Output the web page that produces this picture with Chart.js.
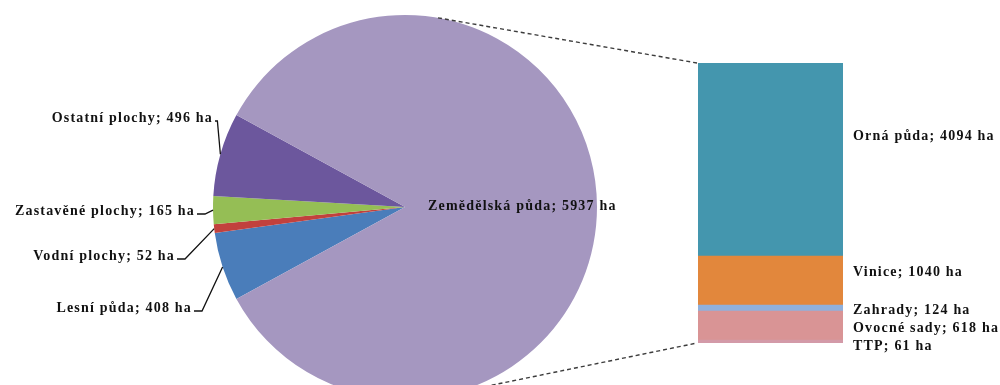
<!DOCTYPE html>
<html>
<head>
<meta charset="utf-8">
<script src="https://cdn.jsdelivr.net/npm/chart.js@4/dist/chart.umd.min.js"></script>
<style>
  html, body { margin: 0; padding: 0; background: #fff; overflow: hidden; width: 1000px; height: 385px; }
  #pie { position: absolute; left: 0; top: 0; }
  #bar { position: absolute; left: 690px; top: 0; }
</style>
</head>
<body>
<canvas id="pie" width="1000" height="420"></canvas>
<canvas id="bar" width="310" height="385"></canvas>
<script>
// Land use (ha): main pie slices, clockwise from the lower left
const pieLabels = ['Lesní půda', 'Vodní plochy', 'Zastavěné plochy', 'Ostatní plochy', 'Zemědělská půda'];
const pieValues = [408, 52, 165, 496, 5937];
const pieColors = ['#4a7dba', '#c2413d', '#95be55', '#6c579d', '#a597c0'];

// Breakdown of agricultural land (ha), top to bottom of the column
const barLabels = ['Orná půda', 'Vinice', 'Zahrady', 'Ovocné sady', 'TTP'];
const barValues = [4094, 1040, 124, 618, 61];
const barColors = ['#4496ae', '#e2873c', '#8fb0dc', '#d99495', '#d39aa8'];

const UNIT = 'ha';
const LABEL_FONT = 'bold 14px "Liberation Serif", "Times New Roman", serif';
const LABEL_SPACING = '1.2px';
const BAR_CANVAS_LEFT = 690;

// label anchors for the pie slices (right edge of text for outside labels)
const pieLabelPos = [
  { x: 192, y: 308 },
  { x: 175, y: 256 },
  { x: 195, y: 211 },
  { x: 213, y: 118 },
  { x: 428, y: 206, inside: true }
];
// vertical nudges of the column labels relative to segment centres
const barLabelDy = [-23, -8, 2, 3, 5];

const fmt = (name, v) => `${name}; ${v} ${UNIT}`;

// ---- column (stacked bar) ----
const barTotal = barValues.reduce((a, b) => a + b, 0);
const barDatasets = barLabels.map((name, i) => ({
  label: name,
  data: [barValues[i]],
  backgroundColor: barColors[i],
  borderWidth: 0,
  barPercentage: 1,
  categoryPercentage: 1
})).reverse(); // first dataset stacks at the bottom

const barLabelPlugin = {
  id: 'barLabels',
  afterDatasetsDraw(chart) {
    const ctx = chart.ctx;
    ctx.save();
    ctx.font = LABEL_FONT;
    ctx.letterSpacing = LABEL_SPACING;
    ctx.fillStyle = '#111';
    ctx.textAlign = 'left';
    ctx.textBaseline = 'middle';
    chart.data.datasets.forEach((ds, di) => {
      const el = chart.getDatasetMeta(di).data[0];
      const idx = barLabels.indexOf(ds.label);
      const top = Math.min(el.y, el.base), bottom = Math.max(el.y, el.base);
      const x = el.x + el.width / 2 + 10;
      const y = (top + bottom) / 2 + barLabelDy[idx];
      ctx.fillText(fmt(ds.label, barValues[idx]), x, y);
    });
    ctx.restore();
  }
};

const barChart = new Chart(document.getElementById('bar'), {
  type: 'bar',
  data: { labels: [''], datasets: barDatasets },
  options: {
    responsive: false,
    animation: false,
    layout: { padding: { left: 8, right: 157, top: 63, bottom: 42 } },
    scales: {
      x: { stacked: true, display: false },
      y: { stacked: true, display: false, min: 0, max: barTotal }
    },
    plugins: { legend: { display: false }, tooltip: { enabled: false } }
  },
  plugins: [barLabelPlugin]
});

// ---- pie ----
const pieTotal = pieValues.reduce((a, b) => a + b, 0);
const smallSum = pieValues.slice(0, 4).reduce((a, b) => a + b, 0);
// centre the small slices on the left side of the pie
const rotation = 270 - (smallSum / pieTotal) * 180;

const pieDecor = {
  id: 'pieDecor',
  afterDatasetsDraw(chart) {
    const ctx = chart.ctx;
    const arcs = chart.getDatasetMeta(0).data;
    ctx.save();

    // dashed connectors from the pie to the column
    const ca = barChart.chartArea;
    const c = arcs[0];
    const r = c.outerRadius;
    const corners = [
      [BAR_CANVAS_LEFT + ca.left - 1, ca.top, -1],
      [BAR_CANVAS_LEFT + ca.left - 1, ca.bottom, 1]
    ];
    ctx.strokeStyle = '#3c3c3c';
    ctx.lineWidth = 1.4;
    ctx.setLineDash([4, 3]);
    corners.forEach(([px, py, side]) => {
      const dx = px - c.x, dy = py - c.y;
      const d = Math.hypot(dx, dy);
      const a = Math.atan2(dy, dx) + side * Math.acos(r / d);
      ctx.beginPath();
      ctx.moveTo(c.x + r * Math.cos(a), c.y + r * Math.sin(a));
      ctx.lineTo(px, py);
      ctx.stroke();
    });
    ctx.setLineDash([]);

    // slice labels and leader lines
    ctx.font = LABEL_FONT;
    ctx.letterSpacing = LABEL_SPACING;
    ctx.fillStyle = '#111';
    ctx.textBaseline = 'middle';
    ctx.strokeStyle = '#111';
    ctx.lineWidth = 1.3;
    arcs.forEach((arc, i) => {
      const p = pieLabelPos[i];
      const text = fmt(pieLabels[i], pieValues[i]);
      if (p.inside) {
        ctx.textAlign = 'left';
        ctx.fillText(text, p.x, p.y);
        return;
      }
      ctx.textAlign = 'right';
      ctx.fillText(text, p.x, p.y);
      const mid = (arc.startAngle + arc.endAngle) / 2;
      const ax = arc.x + arc.outerRadius * Math.cos(mid);
      const ay = arc.y + arc.outerRadius * Math.sin(mid);
      const sy = p.y + 3;
      const ex = Math.min(p.x + 10, ax - 3);
      ctx.beginPath();
      ctx.moveTo(p.x + 2, sy);
      ctx.lineTo(ex, sy);
      ctx.lineTo(ax, ay);
      ctx.stroke();
    });
    ctx.restore();
  }
};

new Chart(document.getElementById('pie'), {
  type: 'pie',
  data: {
    labels: pieLabels,
    datasets: [{ data: pieValues, backgroundColor: pieColors, borderWidth: 0 }]
  },
  options: {
    responsive: false,
    animation: false,
    rotation: rotation,
    layout: { padding: { left: 213, right: 403, top: 15, bottom: 21 } },
    plugins: { legend: { display: false }, tooltip: { enabled: false } }
  },
  plugins: [pieDecor]
});
</script>
</body>
</html>
